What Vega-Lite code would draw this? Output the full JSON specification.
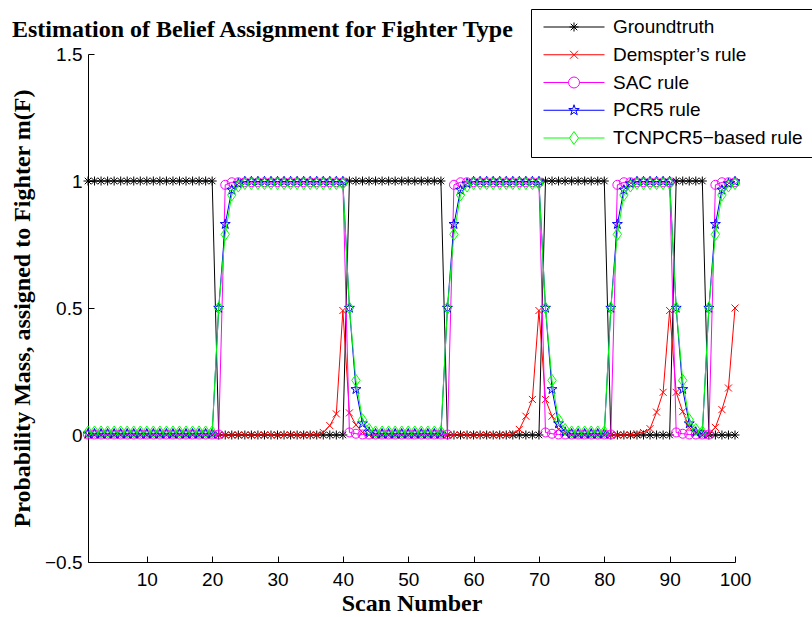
{
  "$schema": "https://vega.github.io/schema/vega-lite/v6.json",
  "width": 647,
  "height": 508,
  "autosize": "none",
  "padding": {"left": 88, "top": 54, "right": 77, "bottom": 55},
  "background": "white",
  "title": {"text": "Estimation of Belief Assignment for Fighter Type", "anchor": "start", "frame": "group", "dx": -76, "dy": 39, "offset": 6, "font": "Liberation Serif", "fontSize": 24, "fontWeight": "bold", "color": "black"},
  "config": {
    "view": {"stroke": null},
    "axis": {"domainColor": "black", "tickColor": "black", "labelColor": "black", "titleColor": "black", "grid": false, "labelFont": "Liberation Sans", "labelFontSize": 19, "titleFont": "Liberation Serif", "titleFontSize": 24, "titleFontWeight": "bold", "tickSize": -6, "domainWidth": 1, "tickWidth": 1, "labelFlush": false, "labelOverlap": false}
  },
  "data": {"values": [
    {"s":1,"gt":1,"ds":0,"sac":0.002,"pcr5":0.005,"tcn":0.012},
    {"s":2,"gt":1,"ds":0,"sac":0.002,"pcr5":0.005,"tcn":0.012},
    {"s":3,"gt":1,"ds":0,"sac":0.002,"pcr5":0.005,"tcn":0.012},
    {"s":4,"gt":1,"ds":0,"sac":0.002,"pcr5":0.005,"tcn":0.012},
    {"s":5,"gt":1,"ds":0,"sac":0.002,"pcr5":0.005,"tcn":0.012},
    {"s":6,"gt":1,"ds":0,"sac":0.002,"pcr5":0.005,"tcn":0.012},
    {"s":7,"gt":1,"ds":0,"sac":0.002,"pcr5":0.005,"tcn":0.012},
    {"s":8,"gt":1,"ds":0,"sac":0.002,"pcr5":0.005,"tcn":0.012},
    {"s":9,"gt":1,"ds":0,"sac":0.002,"pcr5":0.005,"tcn":0.012},
    {"s":10,"gt":1,"ds":0,"sac":0.002,"pcr5":0.005,"tcn":0.012},
    {"s":11,"gt":1,"ds":0,"sac":0.002,"pcr5":0.005,"tcn":0.012},
    {"s":12,"gt":1,"ds":0,"sac":0.002,"pcr5":0.005,"tcn":0.012},
    {"s":13,"gt":1,"ds":0,"sac":0.002,"pcr5":0.005,"tcn":0.012},
    {"s":14,"gt":1,"ds":0,"sac":0.002,"pcr5":0.005,"tcn":0.012},
    {"s":15,"gt":1,"ds":0,"sac":0.002,"pcr5":0.005,"tcn":0.012},
    {"s":16,"gt":1,"ds":0,"sac":0.002,"pcr5":0.005,"tcn":0.012},
    {"s":17,"gt":1,"ds":0,"sac":0.002,"pcr5":0.005,"tcn":0.012},
    {"s":18,"gt":1,"ds":0,"sac":0.002,"pcr5":0.005,"tcn":0.012},
    {"s":19,"gt":1,"ds":0,"sac":0.002,"pcr5":0.005,"tcn":0.012},
    {"s":20,"gt":1,"ds":0,"sac":0.002,"pcr5":0.005,"tcn":0.012},
    {"s":21,"gt":0,"ds":0,"sac":0.002,"pcr5":0.5,"tcn":0.5},
    {"s":22,"gt":0,"ds":0,"sac":0.985,"pcr5":0.83,"tcn":0.79},
    {"s":23,"gt":0,"ds":0,"sac":0.995,"pcr5":0.965,"tcn":0.945},
    {"s":24,"gt":0,"ds":0,"sac":0.995,"pcr5":0.99,"tcn":0.98},
    {"s":25,"gt":0,"ds":0,"sac":0.995,"pcr5":0.998,"tcn":0.99},
    {"s":26,"gt":0,"ds":0,"sac":0.995,"pcr5":0.998,"tcn":0.99},
    {"s":27,"gt":0,"ds":0,"sac":0.995,"pcr5":0.998,"tcn":0.99},
    {"s":28,"gt":0,"ds":0,"sac":0.995,"pcr5":0.998,"tcn":0.99},
    {"s":29,"gt":0,"ds":0,"sac":0.995,"pcr5":0.998,"tcn":0.99},
    {"s":30,"gt":0,"ds":0,"sac":0.995,"pcr5":0.998,"tcn":0.99},
    {"s":31,"gt":0,"ds":0,"sac":0.995,"pcr5":0.998,"tcn":0.99},
    {"s":32,"gt":0,"ds":0,"sac":0.995,"pcr5":0.998,"tcn":0.99},
    {"s":33,"gt":0,"ds":0,"sac":0.995,"pcr5":0.998,"tcn":0.99},
    {"s":34,"gt":0,"ds":0,"sac":0.995,"pcr5":0.998,"tcn":0.99},
    {"s":35,"gt":0,"ds":0,"sac":0.995,"pcr5":0.998,"tcn":0.99},
    {"s":36,"gt":0,"ds":0,"sac":0.995,"pcr5":0.998,"tcn":0.99},
    {"s":37,"gt":0,"ds":0.01,"sac":0.995,"pcr5":0.998,"tcn":0.99},
    {"s":38,"gt":0,"ds":0.037,"sac":0.995,"pcr5":0.998,"tcn":0.99},
    {"s":39,"gt":0,"ds":0.083,"sac":0.995,"pcr5":0.998,"tcn":0.99},
    {"s":40,"gt":0,"ds":0.49,"sac":0.995,"pcr5":0.998,"tcn":0.99},
    {"s":41,"gt":1,"ds":0.087,"sac":0.01,"pcr5":0.5,"tcn":0.5},
    {"s":42,"gt":1,"ds":0.04,"sac":0.005,"pcr5":0.18,"tcn":0.215},
    {"s":43,"gt":1,"ds":0.01,"sac":0.002,"pcr5":0.045,"tcn":0.06},
    {"s":44,"gt":1,"ds":0,"sac":0.002,"pcr5":0.012,"tcn":0.022},
    {"s":45,"gt":1,"ds":0,"sac":0.002,"pcr5":0.005,"tcn":0.012},
    {"s":46,"gt":1,"ds":0,"sac":0.002,"pcr5":0.005,"tcn":0.012},
    {"s":47,"gt":1,"ds":0,"sac":0.002,"pcr5":0.005,"tcn":0.012},
    {"s":48,"gt":1,"ds":0,"sac":0.002,"pcr5":0.005,"tcn":0.012},
    {"s":49,"gt":1,"ds":0,"sac":0.002,"pcr5":0.005,"tcn":0.012},
    {"s":50,"gt":1,"ds":0,"sac":0.002,"pcr5":0.005,"tcn":0.012},
    {"s":51,"gt":1,"ds":0,"sac":0.002,"pcr5":0.005,"tcn":0.012},
    {"s":52,"gt":1,"ds":0,"sac":0.002,"pcr5":0.005,"tcn":0.012},
    {"s":53,"gt":1,"ds":0,"sac":0.002,"pcr5":0.005,"tcn":0.012},
    {"s":54,"gt":1,"ds":0,"sac":0.002,"pcr5":0.005,"tcn":0.012},
    {"s":55,"gt":1,"ds":0,"sac":0.002,"pcr5":0.005,"tcn":0.012},
    {"s":56,"gt":0,"ds":0,"sac":0.002,"pcr5":0.5,"tcn":0.5},
    {"s":57,"gt":0,"ds":0,"sac":0.985,"pcr5":0.83,"tcn":0.79},
    {"s":58,"gt":0,"ds":0,"sac":0.995,"pcr5":0.965,"tcn":0.945},
    {"s":59,"gt":0,"ds":0,"sac":0.995,"pcr5":0.99,"tcn":0.98},
    {"s":60,"gt":0,"ds":0,"sac":0.995,"pcr5":0.998,"tcn":0.99},
    {"s":61,"gt":0,"ds":0,"sac":0.995,"pcr5":0.998,"tcn":0.99},
    {"s":62,"gt":0,"ds":0,"sac":0.995,"pcr5":0.998,"tcn":0.99},
    {"s":63,"gt":0,"ds":0,"sac":0.995,"pcr5":0.998,"tcn":0.99},
    {"s":64,"gt":0,"ds":0,"sac":0.995,"pcr5":0.998,"tcn":0.99},
    {"s":65,"gt":0,"ds":0,"sac":0.995,"pcr5":0.998,"tcn":0.99},
    {"s":66,"gt":0,"ds":0.005,"sac":0.995,"pcr5":0.998,"tcn":0.99},
    {"s":67,"gt":0,"ds":0.022,"sac":0.995,"pcr5":0.998,"tcn":0.99},
    {"s":68,"gt":0,"ds":0.074,"sac":0.995,"pcr5":0.998,"tcn":0.99},
    {"s":69,"gt":0,"ds":0.14,"sac":0.995,"pcr5":0.998,"tcn":0.99},
    {"s":70,"gt":0,"ds":0.49,"sac":0.995,"pcr5":0.998,"tcn":0.99},
    {"s":71,"gt":1,"ds":0.14,"sac":0.01,"pcr5":0.5,"tcn":0.5},
    {"s":72,"gt":1,"ds":0.074,"sac":0.005,"pcr5":0.18,"tcn":0.215},
    {"s":73,"gt":1,"ds":0.022,"sac":0.002,"pcr5":0.045,"tcn":0.06},
    {"s":74,"gt":1,"ds":0.005,"sac":0.002,"pcr5":0.012,"tcn":0.022},
    {"s":75,"gt":1,"ds":0,"sac":0.002,"pcr5":0.005,"tcn":0.012},
    {"s":76,"gt":1,"ds":0,"sac":0.002,"pcr5":0.005,"tcn":0.012},
    {"s":77,"gt":1,"ds":0,"sac":0.002,"pcr5":0.005,"tcn":0.012},
    {"s":78,"gt":1,"ds":0,"sac":0.002,"pcr5":0.005,"tcn":0.012},
    {"s":79,"gt":1,"ds":0,"sac":0.002,"pcr5":0.005,"tcn":0.012},
    {"s":80,"gt":1,"ds":0,"sac":0.002,"pcr5":0.005,"tcn":0.012},
    {"s":81,"gt":0,"ds":0,"sac":0.002,"pcr5":0.5,"tcn":0.5},
    {"s":82,"gt":0,"ds":0,"sac":0.985,"pcr5":0.83,"tcn":0.79},
    {"s":83,"gt":0,"ds":0,"sac":0.995,"pcr5":0.965,"tcn":0.945},
    {"s":84,"gt":0,"ds":0,"sac":0.995,"pcr5":0.99,"tcn":0.98},
    {"s":85,"gt":0,"ds":0.005,"sac":0.995,"pcr5":0.998,"tcn":0.99},
    {"s":86,"gt":0,"ds":0.01,"sac":0.995,"pcr5":0.998,"tcn":0.99},
    {"s":87,"gt":0,"ds":0.025,"sac":0.995,"pcr5":0.998,"tcn":0.99},
    {"s":88,"gt":0,"ds":0.09,"sac":0.995,"pcr5":0.998,"tcn":0.99},
    {"s":89,"gt":0,"ds":0.168,"sac":0.995,"pcr5":0.998,"tcn":0.99},
    {"s":90,"gt":0,"ds":0.49,"sac":0.995,"pcr5":0.998,"tcn":0.99},
    {"s":91,"gt":1,"ds":0.168,"sac":0.01,"pcr5":0.5,"tcn":0.5},
    {"s":92,"gt":1,"ds":0.092,"sac":0.005,"pcr5":0.18,"tcn":0.215},
    {"s":93,"gt":1,"ds":0.03,"sac":0.002,"pcr5":0.045,"tcn":0.06},
    {"s":94,"gt":1,"ds":0.008,"sac":0.002,"pcr5":0.012,"tcn":0.022},
    {"s":95,"gt":1,"ds":0,"sac":0.002,"pcr5":0.005,"tcn":0.012},
    {"s":96,"gt":0,"ds":0.005,"sac":0.002,"pcr5":0.5,"tcn":0.5},
    {"s":97,"gt":0,"ds":0.03,"sac":0.985,"pcr5":0.83,"tcn":0.79},
    {"s":98,"gt":0,"ds":0.1,"sac":0.995,"pcr5":0.965,"tcn":0.945},
    {"s":99,"gt":0,"ds":0.185,"sac":0.995,"pcr5":0.99,"tcn":0.98},
    {"s":100,"gt":0,"ds":0.5,"sac":0.995,"pcr5":0.998,"tcn":0.99}
  ]},
  "transform": [{"fold": ["gt", "ds", "sac", "pcr5", "tcn"], "as": ["key", "m"]}],
  "encoding": {
    "x": {"field": "s", "type": "quantitative", "scale": {"domain": [1, 100], "nice": false, "zero": false},
      "axis": {"values": [10, 20, 30, 40, 50, 60, 70, 80, 90, 100], "title": "Scan Number", "labelPadding": 14, "titlePadding": 2}},
    "y": {"field": "m", "type": "quantitative", "scale": {"domain": [-0.5, 1.5], "nice": false, "zero": false},
      "axis": {"values": [-0.5, 0, 0.5, 1, 1.5], "format": "~g", "title": "Probability Mass, assigned to Fighter m(F)", "labelPadding": 12, "titlePadding": 10}},
    "color": {"field": "key", "type": "nominal",
      "scale": {"domain": ["gt", "ds", "sac", "pcr5", "tcn"], "range": ["#000000", "#ff0000", "#ff00ff", "#0000ff", "#00ff00"]},
      "legend": {
        "title": null, "orient": "none", "legendX": 443, "legendY": -45,
        "strokeColor": "black", "fillColor": "white", "padding": 8.5,
        "symbolSize": 100, "symbolOffset": 25, "labelOffset": 29.5, "rowPadding": 7.75,
        "labelFont": "Liberation Sans", "labelFontSize": 19, "labelColor": "black", "labelLimit": 400,
        "labelExpr": "{'gt':'Groundtruth','ds':'Demspter’s rule','sac':'SAC rule','pcr5':'PCR5 rule','tcn':'TCNPCR5−based rule'}[datum.value]",
        "encode": {"symbols": {"update": {
          "shape": {"signal": "datum.value==='gt'?'M-6.1,0L6.1,0M-0.9,0L0.9,0M0,-0.9L0,0.9M-0.65,-0.65L0.65,0.65M-0.65,0.65L0.65,-0.65':datum.value==='ds'?'M-6.1,0L6.1,0M-0.8,-0.8L0.8,0.8M-0.8,0.8L0.8,-0.8':datum.value==='sac'?'M-6.1,0L-1.1,0M1.1,0L6.1,0M-1.1,0A1.1,1.1,0,1,0,1.1,0A1.1,1.1,0,1,0,-1.1,0Z':datum.value==='pcr5'?'M-6.1,0L6.1,0M0,-1.1L0.25,-0.34L1.05,-0.34L0.4,0.13L0.65,0.89L0,0.42L-0.65,0.89L-0.4,0.13L-1.05,-0.34L-0.25,-0.34Z':'M-6.1,0L-0.9,0M0.9,0L6.1,0M0,-1.3L0.9,0L0,1.3L-0.9,0Z'"},
          "fill": {"value": "transparent"},
          "stroke": {"scale": "color", "field": "value"},
          "strokeWidth": {"value": 1},
          "size": {"value": 100},
          "opacity": {"value": 1}
        }}}
      }}
  },
  "layer": [
    {"transform": [{"filter": "datum.key==='gt'"}], "mark": {"type": "line", "strokeWidth": 1, "point": {"shape": "M-1,0L1,0M0,-1L0,1M-0.72,-0.72L0.72,0.72M-0.72,0.72L0.72,-0.72", "filled": false, "size": 81, "strokeWidth": 1}}},
    {"transform": [{"filter": "datum.key==='ds'"}], "mark": {"type": "line", "strokeWidth": 1, "point": {"shape": "M-1,-1L1,1M-1,1L1,-1", "filled": false, "size": 49, "strokeWidth": 1}}},
    {"transform": [{"filter": "datum.key==='sac'"}], "mark": {"type": "line", "strokeWidth": 1, "point": {"shape": "circle", "filled": false, "size": 81, "strokeWidth": 1}}},
    {"transform": [{"filter": "datum.key==='pcr5'"}], "mark": {"type": "line", "strokeWidth": 1, "point": {"shape": "M0,-1L0.225,-0.309L0.951,-0.309L0.363,0.118L0.588,0.809L0,0.382L-0.588,0.809L-0.363,0.118L-0.951,-0.309L-0.225,-0.309Z", "filled": false, "size": 110, "strokeWidth": 1}}},
    {"transform": [{"filter": "datum.key==='tcn'"}], "mark": {"type": "line", "strokeWidth": 1, "point": {"shape": "M0,-1L0.7,0L0,1L-0.7,0Z", "filled": false, "size": 144, "strokeWidth": 1}}}
  ]
}
